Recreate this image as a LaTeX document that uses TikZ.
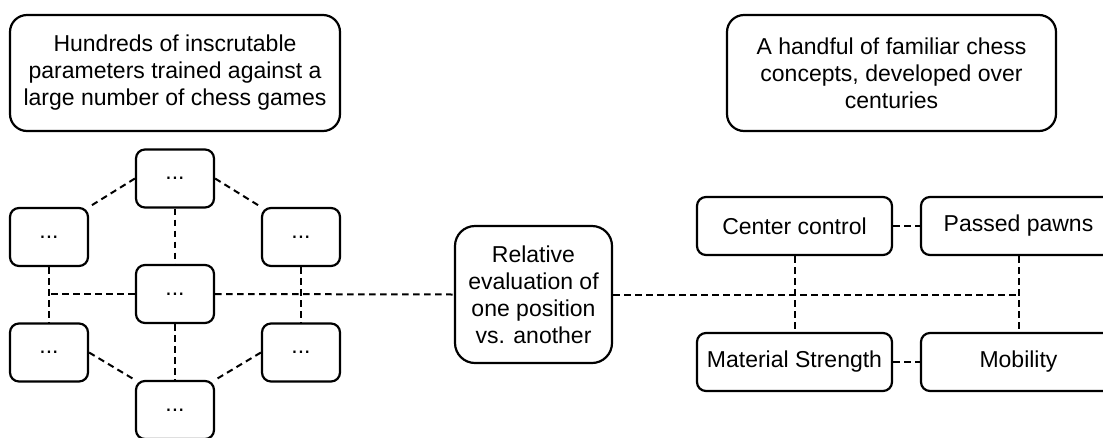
\documentclass[tikz,border=0pt]{standalone}
\usepackage{fontspec}
\setmainfont{Liberation Sans}
\usepackage{tikz}
\tikzset{
	box/.style={
			draw, line width=2.2pt, rounded corners=#1, align=center, inner sep=0pt,
			font=\fontsize{23}{27}\selectfont
		},
	box/.default=9pt,
	link/.style={
			line width=2pt, dash pattern=on 6.5pt off 4.5pt
		}
}

\begin{document}
\begin{tikzpicture}[x=1pt,y=-1pt]
		\useasboundingbox (0,0) rectangle (1103,437);
		\clip (0,0) rectangle (1103,437);

		% Titles
		\node[box=17pt, minimum width=330pt, minimum height=116pt] (hundreds) at (175,73)
		{Hundreds of inscrutable\\parameters trained against a\\large number of chess games};
		\node[box=17pt, minimum width=329pt, minimum height=116pt] (handful) at (891.5,73)
		{A handful of familiar chess\\concepts, developed over\\centuries};

		% Parameters
		\node[box, minimum width=78pt, minimum height=58pt] (p1) at (175,178.5) {...};
		\node[box, minimum width=78pt, minimum height=58pt] (p2) at (49,237) {...};
		\node[box, minimum width=78pt, minimum height=58pt] (p3) at (301,237) {...};
		\node[box, minimum width=78pt, minimum height=58pt] (p4) at (175,294) {...};
		\node[box, minimum width=78pt, minimum height=58pt] (p5) at (49,352.5) {...};
		\node[box, minimum width=78pt, minimum height=58pt] (p6) at (301,352.5) {...};
		\node[box, minimum width=78pt, minimum height=58pt] (p7) at (175,410) {...};

		% Evaluation
		\node[box=20pt, minimum width=157pt, minimum height=137pt] (eval) at (533.5,294.5)
		{Relative\\evaluation of\\one position\\vs. another};

		% Concepts
		\node[box, minimum width=195pt, minimum height=58pt] (center) at (794.5,226) {Center control};
		\node[box, minimum width=195pt, minimum height=58pt] (passed) at (1018.5,226) {Passed pawns};
		\node[box, minimum width=195pt, minimum height=58pt] (material) at (794.5,362) {Material Strength};
		\node[box, minimum width=195pt, minimum height=58pt] (mobility) at (1018.5,362) {Mobility};

		% Links between parameters
		\draw[link] (p1.west) -- (p2.north east);
		\draw[link] (p1.east) -- (p3.north west);
		\draw[link] (p1) -- (p4);
		\draw[link] (p4) -- (p7);
		\draw[link] (p5.east) -- (p7.north west);
		\draw[link] (p6.west) -- (p7.north east);
		\draw[link] (p2) -- (p5);
		\draw[link] (p3) -- (p6);
		\draw[link] (p4.west) -- (p2 |- p4);

		% Links to the evaluation
		\draw[link] (p4.east) -- (eval.west);
		\draw[link] (eval.east) -- (passed |- eval);

		% Links between concepts
		\draw[link] (center) -- (passed);
		\draw[link] (material) -- (mobility);
		\draw[link] (center) -- (material);
		\draw[link] (passed) -- (mobility);
	\end{tikzpicture}
\end{document}
